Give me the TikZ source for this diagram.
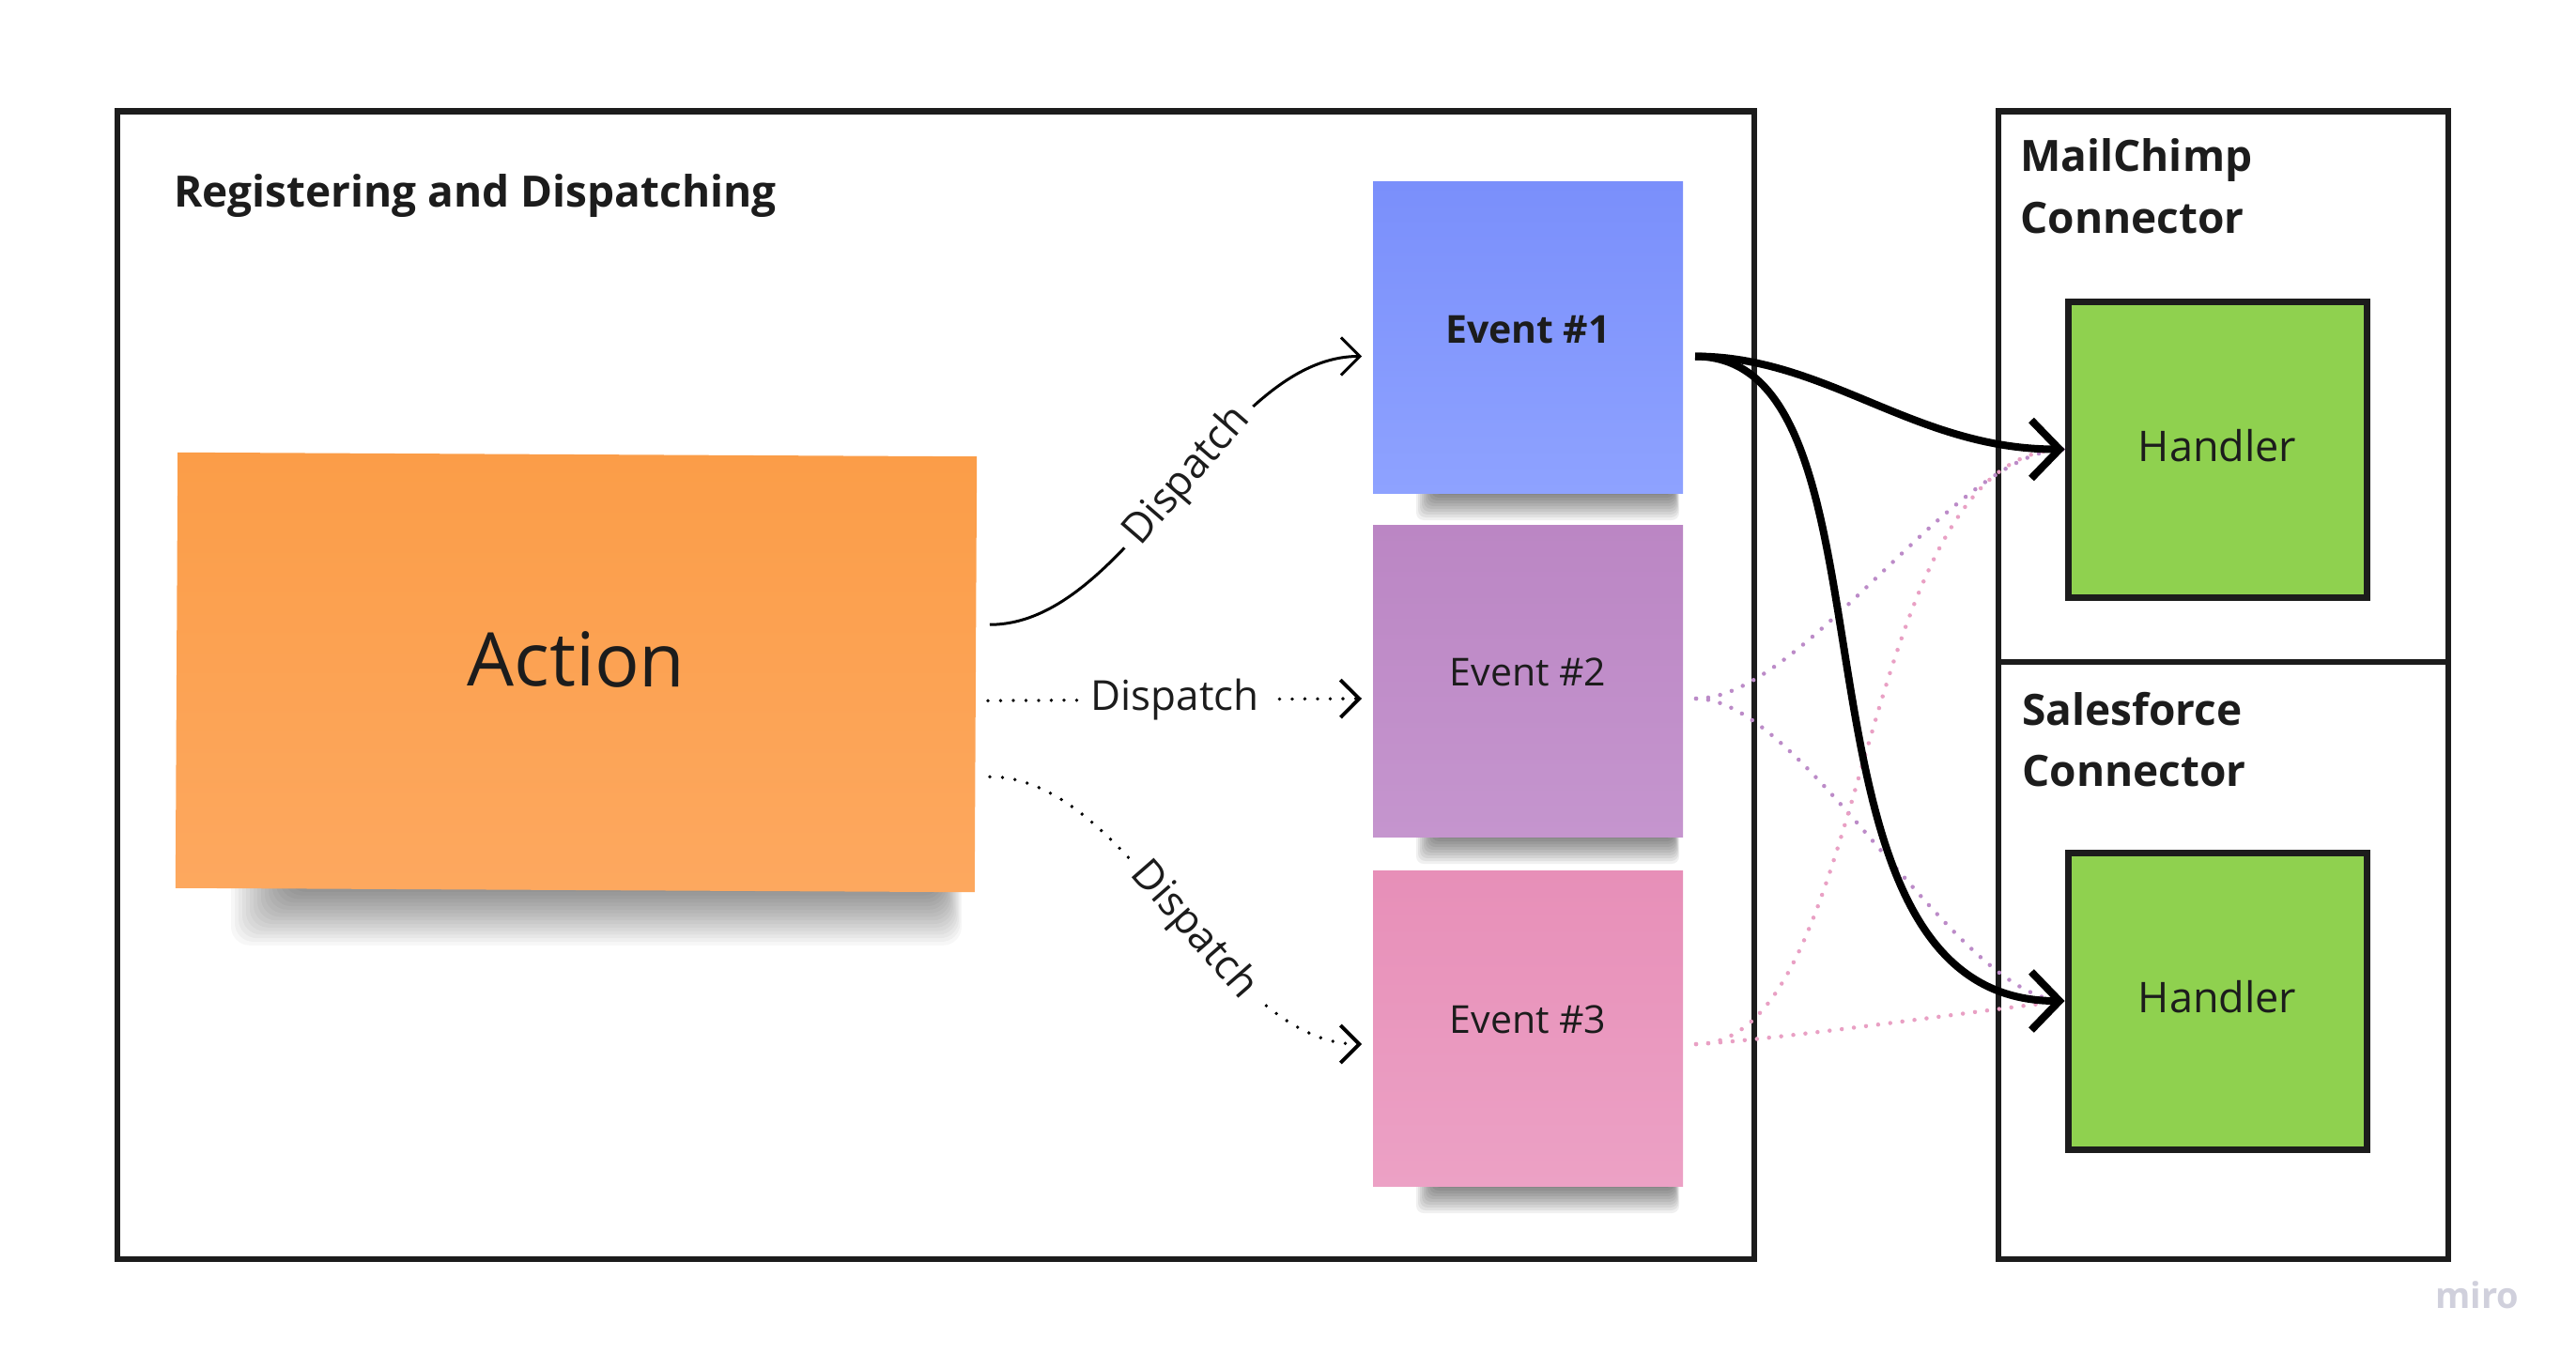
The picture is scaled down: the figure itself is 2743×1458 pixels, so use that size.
\documentclass[tikz,border=0pt]{standalone}
\usepackage{fontspec}
\setmainfont{Open Sans}
\usetikzlibrary{arrows.meta,calc}
\definecolor{ink}{HTML}{1C1C1C}
\definecolor{actTop}{HTML}{FB9D48}
\definecolor{actBot}{HTML}{FDA85F}
\definecolor{e1Top}{HTML}{7A8FFB}
\definecolor{e1Bot}{HTML}{8EA2FF}
\definecolor{e2Top}{HTML}{BB86C4}
\definecolor{e2Bot}{HTML}{C595CE}
\definecolor{e3Top}{HTML}{E78FB8}
\definecolor{e3Bot}{HTML}{ECA1C5}
\definecolor{hgreen}{HTML}{8FD14F}
\definecolor{pdotc}{HTML}{BC8BC8}
\definecolor{kdotc}{HTML}{E9A0C4}
\definecolor{miroc}{HTML}{D0D0DC}
\begin{document}
\begin{tikzpicture}[x=1pt,y=-1pt,
  frame/.style={draw=ink,line width=6.5pt,fill=white,inner sep=0pt,outer sep=0pt},
  sticky/.style={draw=none,inner sep=0pt,outer sep=0pt,text=ink},
  handler/.style={draw=ink,line width=7pt,fill=hgreen,inner sep=0pt,text=ink,
    font=\fontsize{45}{54}\selectfont,text depth=9pt},
  evfont/.style={font=\fontsize{41}{49}\selectfont,text depth=18pt},
  title/.style={anchor=base west,inner sep=0pt,text=ink,font=\bfseries\fontsize{46}{55}\selectfont},
  lbl/.style={fill=white,inner xsep=12pt,inner ysep=3pt,text=ink,font=\fontsize{44}{52}\selectfont},
  thinarrow/.style={draw=black,line width=3pt,-{Straight Barb[length=20pt,width=40pt]}},
  kdots/.style={line cap=round,dash pattern=on 0pt off 13.5pt,line width=3.8pt},
  cdots/.style={line cap=round,dash pattern=on 0pt off 13pt,line width=4.5pt},
  thick/.style={draw=black,line width=8pt,-{Straight Barb[length=30pt,width=62pt]}},
  shadelayer/.style={fill=black,fill opacity=#1,draw=none},
]
\useasboundingbox (0,0) rectangle (2743,1458);
\fill[white] (0,0) rectangle (2743,1458);

% frames
\node[frame,minimum width=1743pt,minimum height=1222.5pt] (reg) at (996.5,729.75) {};
\node[frame,minimum width=479pt,minimum height=586.5pt] (mc) at (2367.5,411.75) {};
\node[frame,minimum width=479pt,minimum height=636pt] (sf) at (2367.5,1023) {};

% titles
\node[title] (regT) at (185,221) {Registering and Dispatching};
\node[title] (mcT1) at (2151,183) {MailChimp};
\node[title] (mcT2) at (2151,248) {Connector};
\node[title] (sfT1) at (2153,772) {Salesforce};
\node[title] (sfT2) at (2153,837) {Connector};

% soft shadows under the sticky notes (layered)
\foreach \i in {1,...,16}{
  \fill[shadelayer=0.033,rounded corners=20pt] ({310-4*\i},900) rectangle ({1000+1.5*\i},{946+3.8*\i});
}
\foreach \b in {524,890,1262}{
  \foreach \i in {1,...,10}{
    \fill[shadelayer=0.06,rounded corners=8pt] ({1528-2*\i},{\b-40}) rectangle ({1782+0.6*\i},{\b+3*\i});
  }
}

% sticky notes
\node[sticky,top color=actTop,bottom color=actBot,minimum width=851pt,minimum height=464pt,
  font=\fontsize{79}{90}\selectfont,text depth=28pt,rotate=-0.3] (act) at (613.5,716) {Action};
\node[sticky,evfont,top color=e1Top,bottom color=e1Bot,minimum width=330pt,minimum height=331pt,
  font=\bfseries\fontsize{41}{49}\selectfont] (ev1) at (1627,359.5) {Event \#1};
\node[sticky,evfont,top color=e2Top,bottom color=e2Bot,minimum width=330pt,minimum height=332pt] (ev2) at (1627,725) {Event \#2};
\node[sticky,evfont,top color=e3Top,bottom color=e3Bot,minimum width=330pt,minimum height=336pt] (ev3) at (1627,1095) {Event \#3};

% handlers
\node[handler,minimum width=318pt,minimum height=315pt] (h1) at (2361,478.5) {Handler};
\node[handler,minimum width=318pt,minimum height=316pt] (h2) at (2361,1066) {Handler};

% dispatch connectors
\draw[thinarrow] ($(act.east)+(15,-53)$) .. controls +(150,0) and +(-150,0) .. ($(ev1.west)+(-12,20)$)
  node[lbl,pos=0.535,sloped] {Dispatch};
\draw[thinarrow,kdots] ($(act.east)+(13,28)$) -- ($(ev2.west)+(-12,19)$)
  node[lbl,midway] {Dispatch};
\draw[thinarrow,kdots] ($(act.east)+(15,109)$) .. controls +(150,0) and +(-150,0) .. ($(ev3.west)+(-12,17)$)
  node[lbl,pos=0.55,sloped] {Dispatch};

% faint dotted event-to-handler links
\draw[cdots,pdotc] ($(ev2.east)+(14,19)$) .. controls +(115,0) and +(-115,0) .. (h1.west);
\draw[cdots,pdotc] ($(ev2.east)+(14,19)$) .. controls +(115,0) and +(-115,0) .. (h2.west);
\draw[cdots,kdotc] ($(ev3.east)+(14,17)$) .. controls +(190,0) and +(-226,0) .. (h1.west);
\draw[cdots,kdotc] ($(ev3.east)+(14,17)$) .. controls +(90,-5) and +(-90,10) .. (h2.west);

% thick links
\draw[thick] ($(ev1.east)+(13,20)$) .. controls +(140,0) and +(-160,0) .. (h1.west);
\draw[thick] ($(ev1.east)+(13,20)$) .. controls +(234,0) and +(-319,0) .. (h2.west);

% watermark
\node[anchor=base west,inner sep=0pt,text=miroc,font=\bfseries\fontsize{38}{44}\selectfont] (miro) at (2593,1393) {miro};
\end{tikzpicture}
\end{document}
